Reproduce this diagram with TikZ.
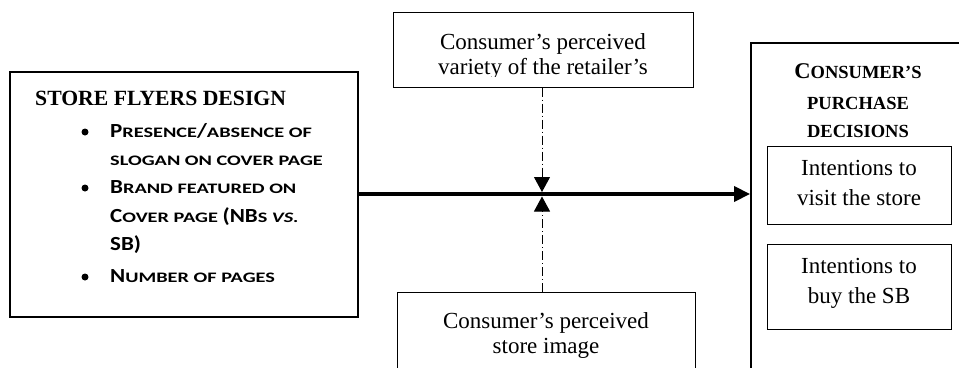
\documentclass[tikz,border=0pt]{standalone}
\usepackage{fontspec}
\setmainfont{Liberation Serif}
\newfontfamily\calbig[FakeStretch=1.15, BoldFeatures={FakeStretch=1.15}]{Carlito}
\newfontfamily\calsmall[FakeStretch=1.4, BoldFeatures={FakeStretch=1.4},
  BoldItalicFeatures={FakeStretch=1.4}]{Carlito}
\usetikzlibrary{arrows.meta}
% fake small caps: large initial letters and reduced capitals
\newcommand{\Lsc}[1]{{\calbig\bfseries\fontsize{20}{20}\selectfont #1}}
\newcommand{\Ssc}[1]{{\calsmall\bfseries\fontsize{14.5}{14.5}\selectfont #1}}
\newcommand{\Lhd}[1]{{\bfseries\fontsize{22.5}{22.5}\selectfont #1}}
\newcommand{\Shd}[1]{{\bfseries\fontsize{18.5}{18.5}\selectfont #1}}
\tikzset{
  box/.style={draw, inner sep=0pt, line width=1pt},
  txt/.style={anchor=base, inner sep=0pt, font=\fontsize{23}{25}\selectfont},
  item/.style={anchor=base west, inner sep=0pt},
  flow/.style={line width=3.5pt, -{Triangle[length=16pt,width=15pt]}},
  moder/.style={line width=1pt, dash pattern=on 9pt off 3pt on 1pt off 3pt,
    -{Triangle[length=15pt,width=16pt]}}
}

\begin{document}
\begin{tikzpicture}[x=1pt, y=-1pt]
  \useasboundingbox (0,0) rectangle (959,367);
  \clip (0,0) rectangle (959,367);
  % Store flyers design
  \node[box, line width=1.5pt, minimum width=348pt, minimum height=245pt] (flyers) at (184,194.5) {};
  \node[item] (flyhead) at (35,105) {\bfseries\fontsize{21.7}{21.7}\selectfont STORE FLYERS DESIGN};
  \foreach \y in {132,188,277}
    \fill (85,\y) circle (3.5pt);
  \node[item] (slogan) at (110,137) {\Lsc{P}\Ssc{RESENCE}\Lsc{/}\Ssc{ABSENCE OF}};
  \node[item] (sloganb) at (110,165) {\Ssc{SLOGAN ON COVER PAGE}};
  \node[item] (brand) at (110,193) {\Lsc{B}\Ssc{RAND FEATURED ON}};
  \node[item] (brandb) at (110,222) {\Lsc{C}\Ssc{OVER PAGE }\Lsc{(NB}\Ssc{S }\Ssc{\itshape VS.}};
  \node[item] (brandc) at (110,250) {\Lsc{SB)}};
  \node[item] (pages) at (110,282) {\Lsc{N}\Ssc{UMBER OF PAGES}};
  % Perceived variety
  \node[box, minimum width=300pt, minimum height=75pt] (variety) at (543,49.5) {};
  \begin{scope}
    \clip (394,13) rectangle (692,76.5);
    \node[txt] (varietya) at (543,49) {Consumer’s perceived};
    \node[txt] (varietyb) at (543,74) {variety of the retailer’s};
  \end{scope}
  % Perceived store image
  \node[box, minimum width=298pt, minimum height=100pt] (image) at (546,342) {};
  \node[txt] (imagea) at (546,328) {Consumer’s perceived};
  \node[txt] (imageb) at (546,353) {store image};
  % Purchase decisions
  \node[box, line width=1.8pt, minimum width=229pt, minimum height=357pt] (decisions) at (865.5,221.5) {};
  \node[txt] (deca) at (858,78) {\Lhd{C}\Shd{ONSUMER’S}};
  \node[txt] (decb) at (858,109) {\Shd{PURCHASE}};
  \node[txt] (decc) at (858,137) {\Shd{DECISIONS}};
  \node[box, minimum width=184pt, minimum height=78pt] (visit) at (859,185) {};
  \node[txt] (visita) at (859,175) {Intentions to};
  \node[txt] (visitb) at (859,205) {visit the store};
  \node[box, minimum width=184pt, minimum height=85pt] (buy) at (859,286.5) {};
  \node[txt] (buya) at (859,273) {Intentions to};
  \node[txt] (buyb) at (859,303) {buy the SB};
  % Connectors
  \coordinate (meet) at (542,194);
  \draw[flow] (flyers.east |- meet) -- (decisions.west |- meet);
  \draw[moder] (variety.south -| meet) -- ([yshift=2pt]meet);
  \draw[moder] (image.north -| meet) -- ([yshift=-2.5pt]meet);
\end{tikzpicture}
\end{document}
